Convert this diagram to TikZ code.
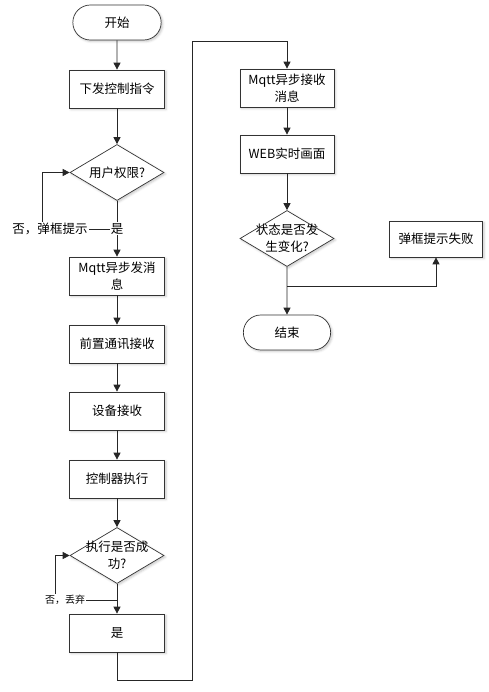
\documentclass[tikz,border=0pt]{standalone}
\usepackage{fontspec}
\setmainfont{Noto Sans CJK SC}
\usepackage{tikz}
\usetikzlibrary{shapes,arrows.meta,calc}
\usetikzlibrary{shadows.blur}
\usetikzlibrary{positioning}

\tikzset{
  shd/.style={blur shadow={shadow xshift=1.5pt,shadow yshift=-1.5pt,shadow blur steps=4,shadow opacity=22}},
  term/.style={rounded rectangle, draw=black!80, fill=white, line width=0.7pt, minimum width=95pt, minimum height=35pt, font=\fontsize{12.5}{14}\selectfont, shd},
  proc/.style={rectangle, draw=black!80, fill=white, line width=0.7pt, minimum width=95pt, minimum height=38pt, align=center, font=\fontsize{12.5}{17}\selectfont, shd},
  decide/.style={diamond, draw=black!80, fill=white, line width=0.7pt, minimum width=94pt, minimum height=56pt, inner sep=0pt, shd},
  dtext/.style={align=center, font=\fontsize{12.5}{17}\selectfont},
  flow/.style={draw=black!85, line width=0.8pt, -{Triangle[length=7pt,width=7pt]}},
  tag/.style={fill=white, inner sep=1pt, font=\fontsize{12.5}{14}\selectfont},
  smalltag/.style={fill=white, inner sep=1pt, font=\fontsize{10}{12}\selectfont}
}

\begin{document}
\begin{tikzpicture}[x=1pt, y=-1pt]
\useasboundingbox (0,0) rectangle (488,692);
\node[term] (start) at (117,22.5) {开始};
\node[proc] (cmd) at (117,89) {下发控制指令};
\node[decide] (auth) at (117,172.5) {};
\node[dtext] (authtxt) at (auth.center) {用户权限?};
\node[proc] (send) at (117,276) {Mqtt异步发消\\息};
\node[proc] (front) at (117,344) {前置通讯接收};
\node[proc] (dev) at (117,411) {设备接收};
\node[proc] (ctrl) at (117,479) {控制器执行};
\node[decide] (exec) at (117,555.5) {};
\node[dtext] (exectxt) at (exec.center) {执行是否成\\功?};
\node[proc] (yes) at (117,633) {是};

\node[proc, minimum width=94pt] (recv) at (287,88) {Mqtt异步接收\\消息};
\node[proc, minimum width=94pt] (web) at (287,154) {WEB实时画面};
\node[decide] (change) at (287,238.5) {};
\node[dtext] (changetxt) at (change.center) {状态是否发\\生变化?};
\node[term, minimum width=94pt] (stop) at (287,332.5) {结束};
\node[proc, minimum width=93pt, minimum height=36pt] (fail) at (436,239) {弹框提示失败};

\coordinate (no1) at (117,229);
\coordinate (bend1) at (42,229);
\coordinate (no2) at (117,600);
\coordinate (bend2) at (55,600);
\coordinate (low) at (192,680);
\coordinate (high) at (192,41);
\coordinate (split) at (287,286);

\draw[flow] (start) -- (cmd);
\draw[flow] (cmd) -- (auth);
\draw[flow] (no1) -- (bend1) |- (auth.west);
\node[tag] (nolab1) at (50,229) {否，弹框提示};
\draw[flow] (auth) -- node[tag, pos=0.5] (yeslab) {是} (send);
\draw[flow] (send) -- (front);
\draw[flow] (front) -- (dev);
\draw[flow] (dev) -- (ctrl);
\draw[flow] (ctrl) -- (exec);
\draw[flow] (no2) -- (bend2) |- (exec.west);
\node[smalltag] (nolab2) at (65,600) {否，丢弃};
\draw[flow] (exec) -- (yes);
\draw[flow] (yes.south) |- (low) -- (high) -| (recv.north);
\draw[flow] (recv) -- (web);
\draw[flow] (web) -- (change);
\draw[flow] (change) -- (stop);
\draw[flow] (split) -| (fail.south);
\end{tikzpicture}
\end{document}
